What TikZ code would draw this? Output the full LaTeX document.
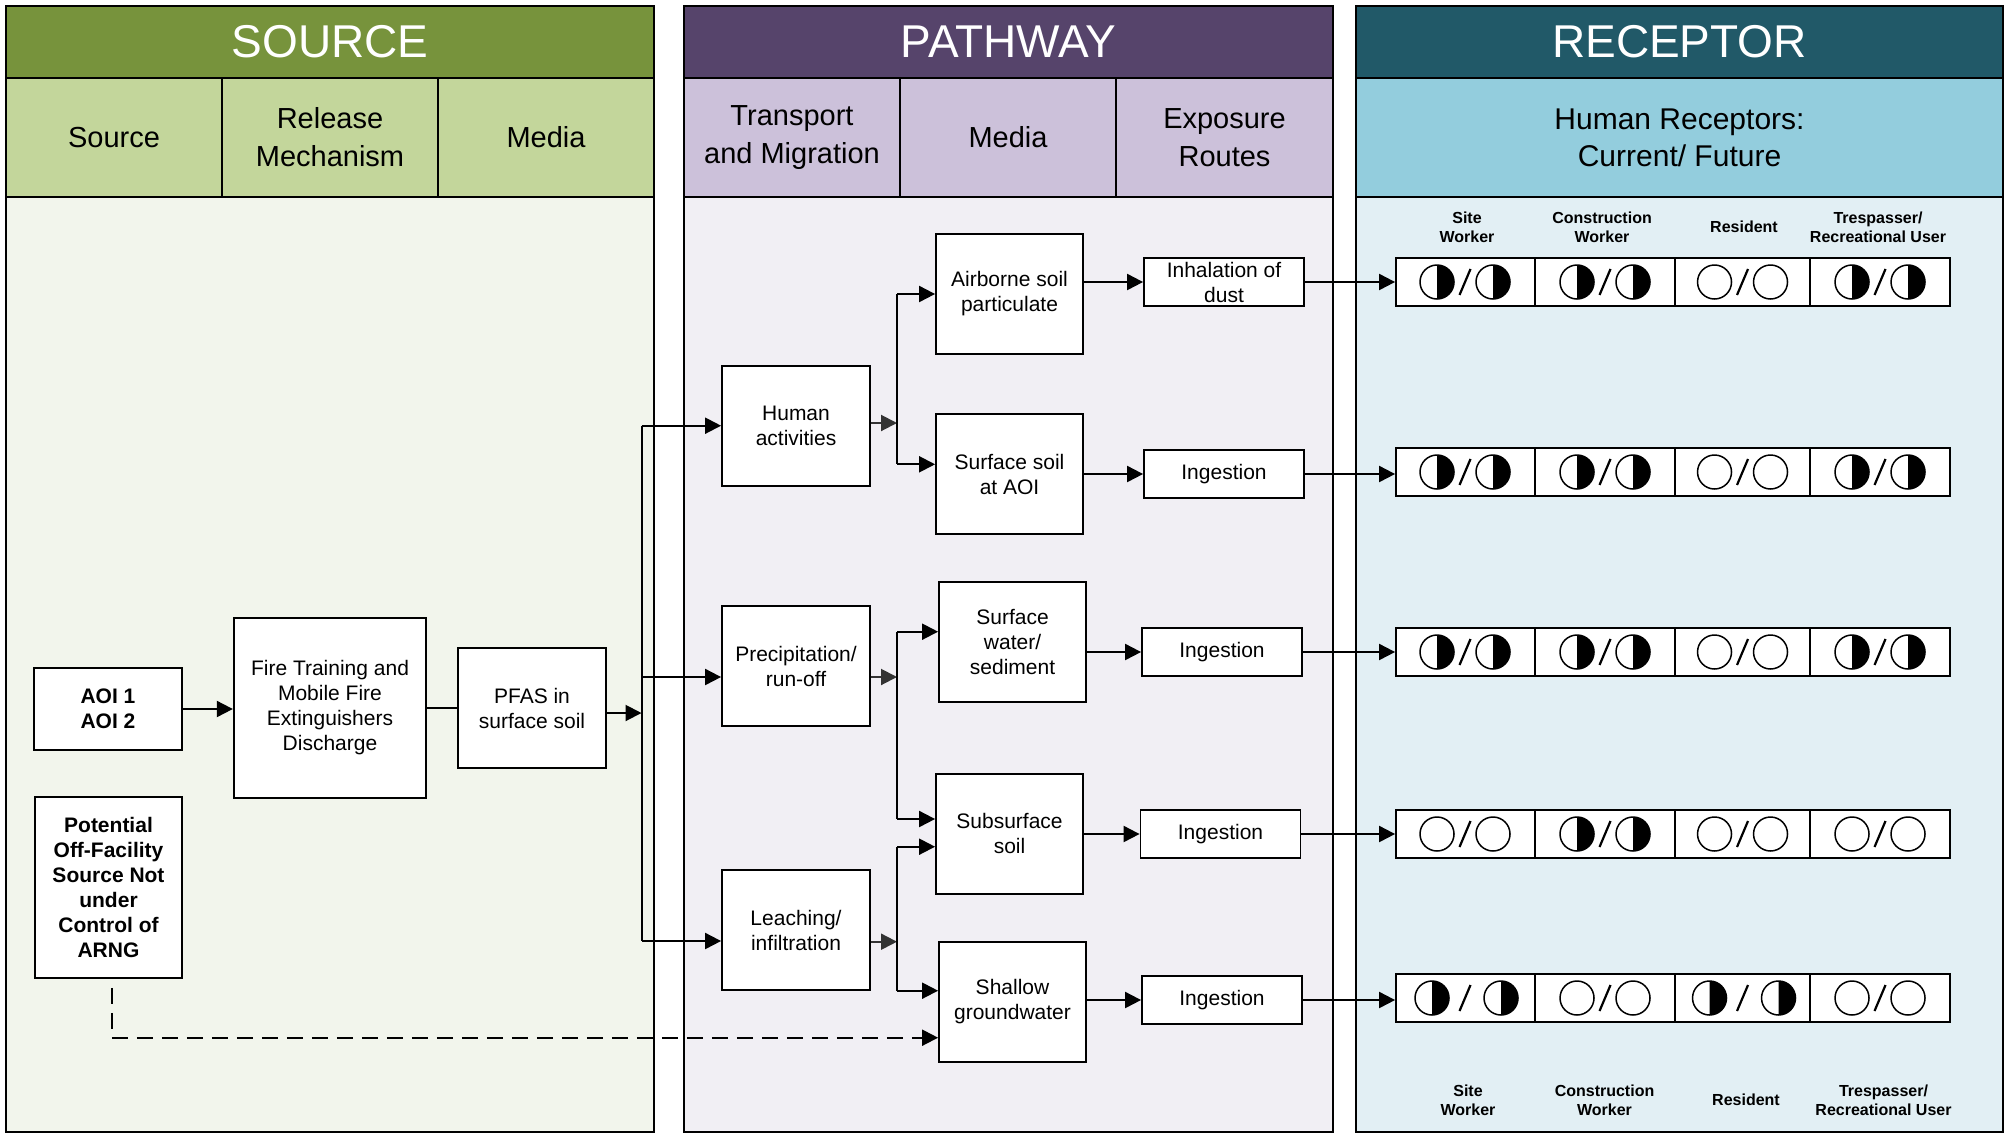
\documentclass[tikz,border=0pt]{standalone}
\usepackage{fontspec}
\setmainfont{Liberation Sans}
\usetikzlibrary{arrows.meta}

\definecolor{srchead}{HTML}{77933C}
\definecolor{srcsub}{HTML}{C3D69B}
\definecolor{srcbody}{HTML}{F2F5EC}
\definecolor{pathhead}{HTML}{56446B}
\definecolor{pathsub}{HTML}{CCC1DA}
\definecolor{pathbody}{HTML}{F1EFF4}
\definecolor{rechead}{HTML}{215968}
\definecolor{recsub}{HTML}{93CDDD}
\definecolor{recbody}{HTML}{E2EFF4}

\newcommand{\bodyfont}{\fontsize{10.5}{12.5}\selectfont}
\newcommand{\subfont}{\fontsize{14.5}{19}\selectfont}
\newcommand{\headfont}{\fontsize{23}{27}\selectfont}
\newcommand{\recfont}{\fontsize{8}{9.5}\selectfont\bfseries}

\tikzstyle{box}=[draw,line width=0.9pt,fill=white,align=center,inner sep=0pt,font=\bodyfont,minimum width=73.5pt,minimum height=60pt]
\tikzstyle{expbox}=[box,minimum width=80pt,minimum height=24pt]
\tikzstyle{rowbox}=[draw,line width=0.9pt,fill=white,minimum width=277pt,minimum height=24pt,inner sep=0pt]
\tikzstyle{head}=[draw,line width=0.8pt,text=white,font=\headfont,minimum width=324pt,minimum height=36pt,inner sep=0pt]
\tikzstyle{subhead}=[draw,line width=0.8pt,align=center,font=\subfont,minimum width=108pt,minimum height=59.5pt,inner sep=0pt]
\tikzstyle{panel}=[draw,line width=0.8pt]
\tikzstyle{edge}=[draw,line width=1pt,->]
\tikzstyle{grayedge}=[edge,draw=black!80]
\tikzstyle{link}=[draw,line width=1pt]
\tikzstyle{recv}=[align=center,font=\recfont,inner sep=0pt]
\tikzstyle{symline}=[draw,line width=0.75pt]

% one disc, right half black
\newcommand{\halfdisc}[2]{%
  \fill[white] (#1,#2) circle[radius=17];
  \fill (#1,#2-17) arc[start angle=-90,end angle=90,radius=17] -- cycle;
  \draw[symline] (#1,#2) circle[radius=17];}
\newcommand{\opendisc}[2]{\draw[symline] (#1,#2) circle[radius=17];}
\newcommand{\slashmark}[2]{\draw[line width=1.1pt] (#1-5.5,#2+13) -- (#1+5.5,#2-13);}
\newcommand{\symh}[2]{\halfdisc{#1-28}{#2}\slashmark{#1}{#2}\halfdisc{#1+28}{#2}}
\newcommand{\symw}[2]{\halfdisc{#1-33}{#2}\slashmark{#1}{#2}\halfdisc{#1+36}{#2}}
\newcommand{\symo}[2]{\opendisc{#1-28}{#2}\slashmark{#1}{#2}\opendisc{#1+28}{#2}}

\begin{document}
\begin{tikzpicture}[x=0.5pt,y=-0.5pt,>={Triangle[length=8pt,width=8pt]}]
  \useasboundingbox (0,0) rectangle (2011,1135);

  \draw[panel,fill=srcbody] (6,78) rectangle (654,1132);
  \draw[panel,fill=pathbody] (684,78) rectangle (1333,1132);
  \draw[panel,fill=recbody] (1356,78) rectangle (2003,1132);

  \node[head,fill=srchead] (hsrc) at (330,42) {SOURCE};
  \node[head,fill=pathhead,minimum width=324.5pt] (hpath) at (1008.5,42) {PATHWAY};
  \node[head,fill=rechead,minimum width=323.5pt] (hrec) at (1679.5,42) {RECEPTOR};

  \node[subhead,fill=srcsub] (ssrc) at (114,137.5) {Source};
  \node[subhead,fill=srcsub] (srel) at (330,137.5) {Release\\Mechanism};
  \node[subhead,fill=srcsub] (smed) at (546,137.5) {Media};
  \node[subhead,fill=pathsub] (stra) at (792,137.5) {Transport\\and Migration};
  \node[subhead,fill=pathsub] (spmed) at (1008,137.5) {Media};
  \node[subhead,fill=pathsub,minimum width=108.5pt] (sexp) at (1224.5,137.5) {Exposure\\Routes};
  \node[subhead,fill=recsub,minimum width=323.5pt,font=\fontsize{15}{18.5}\selectfont] (shum) at (1679.5,137.5) {Human Receptors:\\Current/ Future};

  \node[box,font=\bodyfont\bfseries,minimum width=74pt,minimum height=41pt] (aoi) at (108,709) {AOI 1\\AOI 2};
  \node[box,font=\bodyfont\bfseries,minimum height=90.5pt] (offsrc) at (108.5,887.5) {Potential\\Off-Facility\\Source Not\\under\\Control of\\ARNG};
  \node[box,minimum width=96.25pt,minimum height=90pt] (fire) at (330,708) {Fire Training and\\Mobile Fire\\Extinguishers\\Discharge};
  \node[box,minimum width=74pt] (pfas) at (532,708) {PFAS in\\surface soil};

  \node[box,minimum width=74pt] (human) at (796,426) {Human\\activities};
  \node[box,minimum width=74pt] (precip) at (796,666) {Precipitation/\\run-off};
  \node[box,minimum width=74pt] (leach) at (796,930) {Leaching/\\infiltration};
  \node[box] (air) at (1009.5,294) {Airborne soil\\particulate};
  \node[box] (surf) at (1009.5,474) {Surface soil\\at AOI};
  \node[box] (swater) at (1012.5,641.7) {Surface\\water/\\sediment};
  \node[box] (subsoil) at (1009.5,833.7) {Subsurface\\soil};
  \node[box] (shallow) at (1012.5,1001.7) {Shallow\\groundwater};
  \node[expbox] (inh) at (1224,282) {Inhalation of\\dust};
  \node[expbox] (ing1) at (1224,474) {Ingestion};
  \node[expbox] (ing2) at (1222,652) {Ingestion};
  \node[expbox] (ing3) at (1220.5,834) {Ingestion};
  \node[expbox] (ing4) at (1222,1000) {Ingestion};

  \node[recv] (top1) at (1467,227) {Site\\Worker};
  \node[recv] (top2) at (1602,227) {Construction\\Worker};
  \node[recv] (top3) at (1744,227) {Resident};
  \node[recv] (top4) at (1878,227) {Trespasser/\\Recreational User};
  \node[recv] (bot1) at (1468,1100) {Site\\Worker};
  \node[recv] (bot2) at (1604.5,1100) {Construction\\Worker};
  \node[recv] (bot3) at (1746,1100) {Resident};
  \node[recv] (bot4) at (1883.5,1100) {Trespasser/\\Recreational User};

  \foreach \yy/\ta/\tb/\tc/\td [count=\n] in {282/h/h/o/h,472/h/h/o/h,652/h/h/o/h,834/o/h/o/o,998/w/o/w/o}{
    \node[rowbox] (r\n) at (1673,\yy) {};
    \foreach \xx in {1535,1675,1810}
      \draw[line width=0.9pt] (\xx,\yy-24) -- (\xx,\yy+24);
    \csname sym\ta\endcsname{1465}{\yy}
    \csname sym\tb\endcsname{1605}{\yy}
    \csname sym\tc\endcsname{1742.5}{\yy}
    \csname sym\td\endcsname{1880}{\yy}
  }

  \coordinate (busin) at (641.5,713);
  \coordinate (bus1) at (641.5,425.7);
  \coordinate (bus2) at (641.5,677);
  \coordinate (bus3) at (641.5,941);
  \coordinate (hbo) at (897,423);
  \coordinate (hb1) at (897,294);
  \coordinate (hb2) at (897,464.3);
  \coordinate (pbo) at (897,677);
  \coordinate (pb1) at (897,631.7);
  \coordinate (pb2) at (897,819);
  \coordinate (lbo) at (897,941.7);
  \coordinate (lb1) at (897,846.7);
  \coordinate (lb2) at (897,990.7);
  \coordinate (dashc) at (111.6,1037.7);

  \draw[edge] (aoi.east) -- (aoi.east -| fire.west);
  \draw[link] (fire) -- (pfas);
  \draw[edge] (pfas.east |- busin) -- (busin);
  \draw[link] (bus1) -- (bus3);
  \draw[edge] (bus1) -- (bus1 -| human.west);
  \draw[edge] (bus2) -- (bus2 -| precip.west);
  \draw[edge] (bus3) -- (bus3 -| leach.west);

  \draw[grayedge] (human.east |- hbo) -- (hbo);
  \draw[link] (hb1) -- (hb2);
  \draw[edge] (hb1) -- (hb1 -| air.west);
  \draw[edge] (hb2) -- (hb2 -| surf.west);
  \draw[grayedge] (precip.east |- pbo) -- (pbo);
  \draw[link] (pb1) -- (pb2);
  \draw[edge] (pb1) -- (pb1 -| swater.west);
  \draw[edge] (pb2) -- (pb2 -| subsoil.west);
  \draw[grayedge] (leach.east |- lbo) -- (lbo);
  \draw[link] (lb1) -- (lb2);
  \draw[edge] (lb1) -- (lb1 -| subsoil.west);
  \draw[edge] (lb2) -- (lb2 -| shallow.west);
  \draw[edge,dash pattern=on 8pt off 4.5pt,dash phase=8pt] (offsrc.south -| dashc) -- (dashc) -- (dashc -| shallow.west);

  \draw[edge] (air.east |- inh) -- (inh.west);
  \draw[edge] (surf.east |- ing1) -- (ing1.west);
  \draw[edge] (swater.east |- ing2) -- (ing2.west);
  \draw[edge] (subsoil.east |- ing3) -- (ing3.west);
  \draw[edge] (shallow.east |- ing4) -- (ing4.west);

  \draw[edge] (inh.east) -- (inh.east -| r1.west);
  \draw[edge] (ing1.east) -- (ing1.east -| r2.west);
  \draw[edge] (ing2.east) -- (ing2.east -| r3.west);
  \draw[edge] (ing3.east) -- (ing3.east -| r4.west);
  \draw[edge] (ing4.east) -- (ing4.east -| r5.west);
\end{tikzpicture}
\end{document}
